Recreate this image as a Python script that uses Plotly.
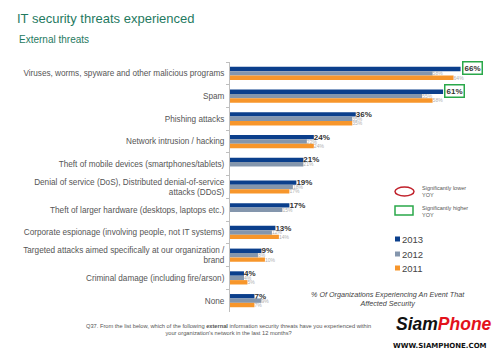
import plotly.graph_objects as go

categories = [
    "Viruses, worms, spyware and other malicious programs",
    "Spam",
    "Phishing attacks",
    "Network intrusion / hacking",
    "Theft of mobile devices (smartphones/tablets)",
    "Denial of service (DoS), Distributed denial-of-service<br>attacks (DDoS)",
    "Theft of larger hardware (desktops, laptops etc.)",
    "Corporate espionage (involving people, not IT systems)",
    "Targeted attacks aimed specifically at our organization /<br>brand",
    "Criminal damage (including fire/arson)",
    "None",
]
v2013 = [66, 61, 36, 24, 21, 19, 17, 13, 9, 4, 7]
v2012 = [58, 55, 35, 22, 21, 18, 15, 12, 8, 4, 9]
v2011 = [64, 58, 35, 24, None, 17, None, 14, 10, 5, 7]
sig_higher_2013 = [True, True, False, False, False, False, False, False, False, False, False]
years = ["2013", "2012", "2011"]
colors = ["#0b3f8c", "#8496ad", "#f7962b"]

W, H = 500, 354
L, R, T, B = 230, 8, 62, 42
PW, PH = W - L - R, H - T - B
FONT = "Liberation Sans, Arial"


def px(x):
    return (x - L) / PW


def py(y):
    return (H - B - y) / PH


fig = go.Figure()

t2013 = ["" if s else f"<b>{v}%</b>" for v, s in zip(v2013, sig_higher_2013)]
t2012 = [f"{v}%" if v is not None else "" for v in v2012]
t2011 = [f"{v}%" if v is not None else "" for v in v2011]

series = [
    (years[0], v2013, colors[0], t2013, dict(size=8, color="#333333", family=FONT)),
    (years[1], v2012, colors[1], t2012, dict(size=5, color="#b0b0b0", family=FONT)),
    (years[2], v2011, colors[2], t2011, dict(size=5, color="#b0b0b0", family=FONT)),
]
for name, vals, col, txt, tf in series:
    fig.add_trace(go.Bar(
        y=categories, x=vals, orientation="h", name=name,
        marker=dict(color=col, line=dict(width=0)),
        text=txt, textposition="outside", textfont=tf,
        constraintext="none", cliponaxis=False, showlegend=False,
        hoverinfo="x+y",
    ))

bargap = 0.42
bar_px = (1 - bargap) * PH / len(categories) / 3

annotations = []
# boxed (significantly higher) 2013 labels
for cat, v, s in zip(categories, v2013, sig_higher_2013):
    if s:
        annotations.append(dict(
            x=v, y=cat, xref="x", yref="y", text=f"<b>{v}%</b>",
            showarrow=False, xanchor="left", yanchor="middle",
            xshift=1, yshift=bar_px + 1,
            font=dict(size=8, color="#333333", family=FONT),
            bordercolor="#2aa84a", borderwidth=1.5, borderpad=1,
        ))

shapes = [
    dict(type="circle", xref="paper", yref="paper",
         x0=px(395), x1=px(414), y0=py(196), y1=py(187),
         line=dict(color="#c0202a", width=1.5)),
    dict(type="rect", xref="paper", yref="paper",
         x0=px(395), x1=px(413), y0=py(215), y1=py(206),
         line=dict(color="#2aa84a", width=1.5)),
]

# legend (small squares + year labels)
legend_y = [239, 254, 268]
for name, col, ly in zip(years, colors, legend_y):
    shapes.append(dict(type="rect", xref="paper", yref="paper",
                       x0=px(395), x1=px(400), y0=py(ly + 2.5), y1=py(ly - 2.5),
                       fillcolor=col, line=dict(width=0)))
    annotations.append(dict(x=px(400), y=py(ly), xref="paper", yref="paper",
                            text=name, showarrow=False, xanchor="left", yanchor="middle",
                            font=dict(size=9.5, color="#444444", family=FONT)))

annotations += [
    dict(x=px(17), y=py(40), xref="paper", yref="paper",
         text="External threats", showarrow=False, xanchor="left", yanchor="middle",
         font=dict(size=10, color="#1f7a5f", family=FONT)),
    dict(x=px(420), y=py(191), xref="paper", yref="paper",
         text="Significantly lower<br>YOY", showarrow=False, xanchor="left", yanchor="middle",
         align="left", font=dict(size=5.5, color="#555555", family=FONT)),
    dict(x=px(420), y=py(211), xref="paper", yref="paper",
         text="Significantly higher<br>YOY", showarrow=False, xanchor="left", yanchor="middle",
         align="left", font=dict(size=5.5, color="#555555", family=FONT)),
    dict(x=px(388), y=py(299), xref="paper", yref="paper",
         text="<i>% Of Organizations Experiencing An Event That<br>Affected Security</i>",
         showarrow=False, xanchor="center", yanchor="middle", align="center",
         font=dict(size=7.2, color="#444444", family=FONT)),
    dict(x=px(228), y=py(329), xref="paper", yref="paper",
         text="Q37. From the list below, which of the following <b>external</b> information security threats have you experienced within<br>your organization's network in the last 12 months?",
         showarrow=False, xanchor="center", yanchor="middle", align="center",
         font=dict(size=5.7, color="#555555", family=FONT)),
    dict(x=px(444), y=py(324), xref="paper", yref="paper",
         text="<b><i><span style='color:#111111'>Siam</span><span style='color:#e3121b'>Phone</span></i></b>",
         showarrow=False, xanchor="center", yanchor="middle",
         font=dict(size=17.5, family="Liberation Sans Narrow, Liberation Sans")),
    dict(x=px(440), y=py(346), xref="paper", yref="paper",
         text="<b>WWW.SIAMPHONE.COM</b>",
         showarrow=False, xanchor="center", yanchor="middle",
         font=dict(size=7, color="#111111", family="DejaVu Sans")),
]

fig.update_layout(
    width=W, height=H,
    margin=dict(l=L, r=R, t=T, b=B),
    paper_bgcolor="white", plot_bgcolor="white",
    barmode="group", bargap=bargap, bargroupgap=0,
    title=dict(text="IT security threats experienced", x=17 / W, xref="container",
               y=1 - 18 / H, yref="container", xanchor="left", yanchor="middle",
               font=dict(size=13, color="#1f7a5f", family=FONT)),
    xaxis=dict(range=[0, 75], visible=False),
    yaxis=dict(range=[len(categories) - 0.5, -0.5], type="category",
               showline=True, linecolor="#bfbfbf", linewidth=1,
               ticks="outside", tickson="boundaries", ticklen=3, tickcolor="#bfbfbf",
               ticklabelstandoff=3,
               tickfont=dict(size=8.2, color="#555555", family=FONT),
               showgrid=False, zeroline=False),
    annotations=annotations,
    shapes=shapes,
    showlegend=False,
)

fig.write_html("out.html")
